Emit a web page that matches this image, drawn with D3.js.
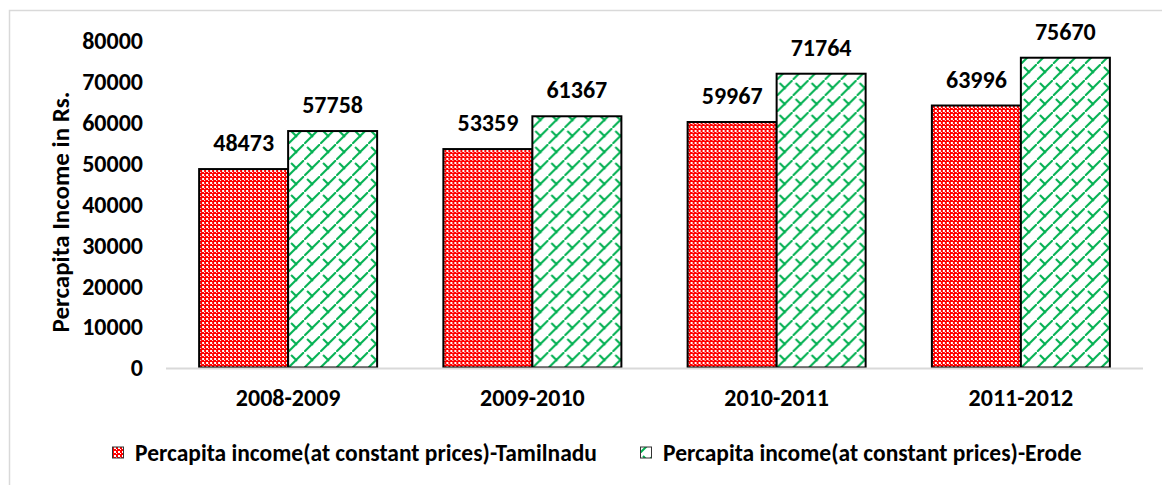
<!DOCTYPE html>
<html>
<head>
<meta charset="utf-8">
<script src="https://cdn.jsdelivr.net/npm/d3@7"></script>
<style>
  body { margin: 0; background: #fff; }
  text { font-family: Calibri, Carlito, "Liberation Sans", Arial, sans-serif; font-weight: bold; fill: #000; }
</style>
</head>
<body>
<script>
// values
var years = ["2008-2009", "2009-2010", "2010-2011", "2011-2012"];
var seriesNames = ["Percapita income(at constant prices)-Tamilnadu", "Percapita income(at constant prices)-Erode"];
var tamilnadu = [48473, 53359, 59967, 63996];
var erode = [57758, 61367, 71764, 75670];
var yTicks = [0, 10000, 20000, 30000, 40000, 50000, 60000, 70000, 80000];

var W = 1162, H = 485;
var margin = {top: 40, left: 166, right: 19, bottom: 117};

var svg = d3.select("body").append("svg")
    .attr("width", W)
    .attr("height", H);

// patterns: red dotted checker and green lattice
var defs = svg.append("defs");
var pRed = defs.append("pattern").attr("id", "pat-red")
    .attr("patternUnits", "userSpaceOnUse").attr("width", 4).attr("height", 4);
pRed.append("rect").attr("width", 4).attr("height", 4).attr("fill", "#ff0000");
pRed.append("rect").attr("x", 2).attr("y", 2).attr("width", 2).attr("height", 2).attr("fill", "#fff")
    .attr("shape-rendering", "crispEdges");
pRed.append("rect").attr("x", 0).attr("y", 0).attr("width", 1).attr("height", 1).attr("fill", "#fff")
    .attr("shape-rendering", "crispEdges");

var pGreen = defs.append("pattern").attr("id", "pat-green")
    .attr("patternUnits", "userSpaceOnUse").attr("width", 16).attr("height", 16);
pGreen.append("rect").attr("width", 16).attr("height", 16).attr("fill", "#fff");
pGreen.append("path").attr("d", "M-1,17 L17,-1 M3,3 L9,9")
    .attr("stroke", "#00b050").attr("stroke-width", 2).attr("fill", "none");

// outer frame
svg.append("rect").attr("x", 9.5).attr("y", 10.5).attr("width", 1170).attr("height", 500)
    .attr("fill", "none").attr("stroke", "#d9d9d9").attr("stroke-width", 1.5);

var x0 = d3.scaleBand().domain(years).range([margin.left, W - margin.right]);
var y = d3.scaleLinear().domain([0, 80000]).range([H - margin.bottom - 0.5, margin.top]);
var barW = 89;

var yAxis = d3.axisLeft(y).tickValues(yTicks).tickSize(0).tickPadding(0).tickFormat(d3.format("d"));
var gy = svg.append("g").attr("transform", "translate(143,0)").call(yAxis);
gy.select(".domain").remove();
gy.selectAll("text").style("font-size", "24px").attr("dy", "0.35em");

svg.append("text")
    .attr("transform", "translate(69,212) rotate(-90)")
    .attr("text-anchor", "middle")
    .style("font-size", "25px")
    .text("Percapita Income in Rs.");

var groups = svg.selectAll(".grp").data(years).enter().append("g")
    .attr("class", "grp")
    .attr("transform", d => "translate(" + (x0(d) + x0.bandwidth() / 2) + ",0)");

var series = [
  {vals: tamilnadu, fill: "url(#pat-red)", off: -barW},
  {vals: erode, fill: "url(#pat-green)", off: 0}
];

series.forEach(function(s) {
  groups.append("rect")
      .attr("x", s.off)
      .attr("y", (d, i) => y(s.vals[i]))
      .attr("width", barW)
      .attr("height", (d, i) => y(0) - y(s.vals[i]))
      .attr("fill", s.fill)
      .attr("stroke", "#000")
      .attr("stroke-width", 2);
  groups.append("text")
      .attr("x", s.off + barW / 2)
      .attr("y", (d, i) => y(s.vals[i]) - 18)
      .attr("text-anchor", "middle")
      .style("font-size", "24px")
      .text((d, i) => s.vals[i]);
});

// baseline
svg.append("line")
    .attr("x1", margin.left).attr("x2", W - margin.right)
    .attr("y1", y(0) + 1).attr("y2", y(0) + 1)
    .attr("stroke", "#d9d9d9").attr("stroke-width", 2);

var xAxis = d3.axisBottom(x0).tickSize(0).tickPadding(0);
var gx = svg.append("g").attr("transform", "translate(0,398)").call(xAxis);
gx.select(".domain").remove();
gx.selectAll("text").style("font-size", "24px").attr("dy", "0.35em");

// legend
var legendX = [112, 640];
var legendFills = ["url(#pat-red)", "url(#pat-green)"];
var leg = svg.selectAll(".leg").data(seriesNames).enter().append("g")
    .attr("class", "leg")
    .attr("transform", (d, i) => "translate(" + legendX[i] + ",453)");
leg.append("rect").attr("x", 0.5).attr("y", -6).attr("width", 11).attr("height", 11)
    .attr("fill", (d, i) => legendFills[i]).attr("stroke", "#333").attr("stroke-width", 1);
leg.append("text").attr("x", 23).attr("dy", "0.35em")
    .style("font-size", "23.5px")
    .text(d => d);
</script>
</body>
</html>
